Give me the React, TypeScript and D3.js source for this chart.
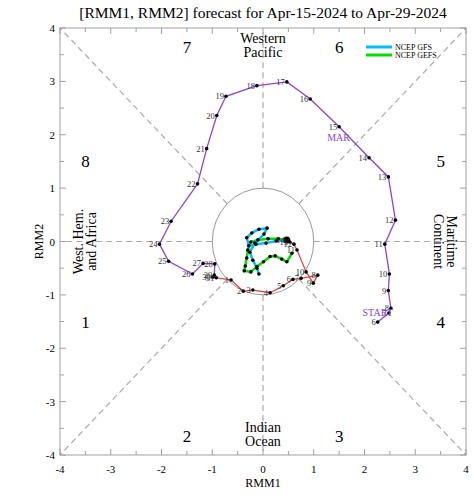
import React from 'react';
import * as d3 from 'd3';

// observed, March (day, rmm1, rmm2)
const marDays = [6, 7, 8, 9, 10, 11, 12, 13, 14, 15, 16, 17, 18, 19, 20, 21, 22, 23, 24, 25, 26, 27, 28, 29, 30, 31];
const marRmm1 = [2.26, 2.48, 2.52, 2.47, 2.49, 2.40, 2.61, 2.47, 2.09, 1.50, 0.93, 0.47, -0.12, -0.73, -0.91, -1.11, -1.29, -1.81, -2.04, -1.86, -1.39, -1.18, -0.95, -0.96, -0.99, -0.92];
const marRmm2 = [-1.51, -1.34, -1.25, -0.92, -0.61, -0.05, 0.40, 1.21, 1.57, 2.15, 2.67, 2.99, 2.92, 2.72, 2.36, 1.74, 1.08, 0.38, -0.05, -0.37, -0.61, -0.41, -0.42, -0.63, -0.67, -0.68];

// observed, April
const aprDays = [1, 2, 3, 4, 5, 6, 7, 8, 9, 10, 11, 12, 13, 14];
const aprRmm1 = [-0.63, -0.39, -0.20, 0.14, 0.40, 0.59, 0.75, 1.08, 0.99, 0.85, 0.67, 0.61, 0.53, 0.47];
const aprRmm2 = [-0.72, -0.93, -0.91, -0.96, -0.83, -0.71, -0.69, -0.63, -0.78, -0.57, -0.16, -0.05, -0.01, 0.03];

// forecasts
const gfsRmm1 = [0.47, 0.26, 0.06, -0.14, -0.28, -0.32, -0.22, -0.08, 0.08, 0.02, -0.16, -0.26, -0.20, -0.12, -0.08];
const gfsRmm2 = [0.03, 0.01, -0.03, -0.05, -0.08, 0.07, 0.16, 0.23, 0.25, 0.14, -0.03, -0.20, -0.35, -0.50, -0.61];
const gefsRmm1 = [0.47, 0.30, 0.10, -0.10, -0.24, -0.30, -0.32, -0.35, -0.37, -0.24, -0.12, 0.01, 0.14, 0.24, 0.37, 0.47, 0.57];
const gefsRmm2 = [0.03, 0.05, 0.05, 0.03, -0.01, -0.16, -0.31, -0.46, -0.55, -0.57, -0.47, -0.38, -0.28, -0.27, -0.33, -0.38, -0.22];

const ticks = [-4, -3, -2, -1, 0, 1, 2, 3, 4];
const minorTicks = [-3.5, -2.5, -1.5, -0.5, 0.5, 1.5, 2.5, 3.5];
const phases = [
  { n: '1', x: -3.5, y: -1.5 }, { n: '2', x: -1.5, y: -3.65 },
  { n: '3', x: 1.5, y: -3.65 }, { n: '4', x: 3.5, y: -1.5 },
  { n: '5', x: 3.5, y: 1.5 }, { n: '6', x: 1.5, y: 3.65 },
  { n: '7', x: -1.5, y: 3.65 }, { n: '8', x: -3.5, y: 1.5 },
];

const FONT = 'Liberation Serif, Times New Roman, serif';

export default function App() {
  const x = d3.scaleLinear().domain([-4, 4]).range([60, 466]);
  const y = d3.scaleLinear().domain([-4, 4]).range([455, 28]);
  const line = d3.line<[number, number]>().x(d => x(d[0])).y(d => y(d[1]));

  const mar = marDays.map((d, i) => [marRmm1[i], marRmm2[i]] as [number, number]);
  const apr = aprDays.map((d, i) => [aprRmm1[i], aprRmm2[i]] as [number, number]);
  const gfs = gfsRmm1.map((v, i) => [v, gfsRmm2[i]] as [number, number]);
  const gefs = gefsRmm1.map((v, i) => [v, gefsRmm2[i]] as [number, number]);

  const radial = d3.range(8).map(k => {
    const a = (k * Math.PI) / 4;
    const c = Math.cos(a), s = Math.sin(a);
    const t = 4 / Math.max(Math.abs(c), Math.abs(s));
    return [[c, s], [c * t, s * t]] as [number, number][];
  });

  const grey = '#a0a0a0';

  return (
    <svg width={474} height={499} style={{ position: 'absolute', left: 0, top: 0, background: '#fff' }} fontFamily={FONT}>
      <text x={263} y={18} textAnchor="middle" fontSize={15.5}>[RMM1, RMM2] forecast for Apr-15-2024 to Apr-29-2024</text>

      {radial.map((r, i) => (
        <path key={i} d={line(r) || ''} stroke="#aaa" strokeWidth={1.2} strokeDasharray="6,4" fill="none" />
      ))}
      <ellipse cx={x(0)} cy={y(0)} rx={x(1) - x(0)} ry={y(0) - y(1)} fill="none" stroke="#999" strokeWidth={1} />

      {/* frame and ticks */}
      <rect x={x(-4)} y={y(4)} width={x(4) - x(-4)} height={y(-4) - y(4)} fill="none" stroke={grey} strokeWidth={1} />
      {ticks.concat(minorTicks).map(t => {
        const len = Number.isInteger(t) ? 6 : 4;
        return (
          <g key={'t' + t} stroke={grey} strokeWidth={1}>
            <line x1={x(t)} x2={x(t)} y1={y(-4)} y2={y(-4) - len} />
            <line x1={x(t)} x2={x(t)} y1={y(4)} y2={y(4) + len} />
            <line y1={y(t)} y2={y(t)} x1={x(-4)} x2={x(-4) + len} />
            <line y1={y(t)} y2={y(t)} x1={x(4)} x2={x(4) - len} />
          </g>
        );
      })}
      {ticks.map(t => (
        <text key={'xl' + t} x={x(t)} y={473} textAnchor="middle" fontSize={11}>{t}</text>
      ))}
      {ticks.map(t => (
        <text key={'yl' + t} x={55} y={y(t) + 4} textAnchor="end" fontSize={11}>{t}</text>
      ))}
      <text x={263} y={487} textAnchor="middle" fontSize={12}>RMM1</text>
      <text transform={`translate(43,${y(0)}) rotate(-90)`} textAnchor="middle" fontSize={12}>RMM2</text>

      {/* phase numbers and region names */}
      {phases.map(p => (
        <text key={p.n} x={x(p.x)} y={y(p.y) + 6} textAnchor="middle" fontSize={17}>{p.n}</text>
      ))}
      <text x={263} y={43} textAnchor="middle" fontSize={14}>Western</text>
      <text x={263} y={57} textAnchor="middle" fontSize={14}>Pacific</text>
      <text x={263} y={432} textAnchor="middle" fontSize={14}>Indian</text>
      <text x={263} y={446} textAnchor="middle" fontSize={14}>Ocean</text>
      <g transform={`translate(83,${y(0)}) rotate(-90)`}>
        <text textAnchor="middle" fontSize={14}>West. Hem.</text>
        <text y={13} textAnchor="middle" fontSize={14}>and Africa</text>
      </g>
      <g transform={`translate(447,${y(0)}) rotate(90)`}>
        <text textAnchor="middle" fontSize={14}>Maritime</text>
        <text y={13} textAnchor="middle" fontSize={14}>Continent</text>
      </g>

      {/* legend */}
      <line x1={366} x2={392} y1={47} y2={47} stroke="#00bfff" strokeWidth={3} />
      <text x={395} y={50} fontSize={8}>NCEP GFS</text>
      <line x1={366} x2={392} y1={55} y2={55} stroke="#00e000" strokeWidth={3} />
      <text x={395} y={58} fontSize={8}>NCEP GEFS</text>

      {/* observed */}
      <path d={line(mar) || ''} stroke="#8e44d0" strokeWidth={1.3} fill="none" />
      <path d={line([mar[mar.length - 1], ...apr]) || ''} stroke="#e04848" strokeWidth={1.3} fill="none" />

      {/* forecasts */}
      <path d={line(gefs) || ''} stroke="#00e000" strokeWidth={2.5} fill="none" strokeLinejoin="round" />
      <path d={line(gfs) || ''} stroke="#00bfff" strokeWidth={2.5} fill="none" strokeLinejoin="round" />
      {gefs.map((p, i) => <circle key={'ge' + i} cx={x(p[0])} cy={y(p[1])} r={1.8} fill="#000" />)}
      {gfs.map((p, i) => <circle key={'gf' + i} cx={x(p[0])} cy={y(p[1])} r={1.8} fill="#000" />)}
      <circle cx={x(gfs[0][0])} cy={y(gfs[0][1])} r={3.5} fill="#000" />

      {mar.map((p, i) => (
        <g key={'m' + i}>
          <circle cx={x(p[0])} cy={y(p[1])} r={1.8} fill="#000" />
          <text x={x(p[0]) - 2} y={y(p[1]) + 3} textAnchor="end" fontSize={8.5} fill="#333">{marDays[i]}</text>
        </g>
      ))}
      {apr.map((p, i) => (
        <g key={'a' + i}>
          <circle cx={x(p[0])} cy={y(p[1])} r={1.8} fill="#000" />
          <text x={x(p[0]) - 2} y={y(p[1]) + 3} textAnchor="end" fontSize={8.5} fill="#333">{aprDays[i]}</text>
        </g>
      ))}
      <text x={x(mar[0][0])} y={y(mar[0][1]) - 6} textAnchor="middle" fontSize={10} fill="#8e44d0">START</text>
      <text x={x(mar[9][0]) - 12} y={y(mar[9][1]) + 14} fontSize={10} fill="#8e44d0">MAR</text>
    </svg>
  );
}
